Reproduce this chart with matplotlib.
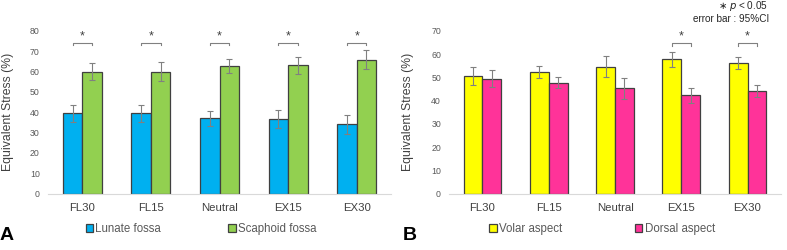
import numpy as np
import matplotlib.pyplot as plt

plt.rcParams['font.family'] = ['Liberation Sans', 'DejaVu Sans']

categories = ['FL30', 'FL15', 'Neutral', 'EX15', 'EX30']

# panel A
lunate = [39.4, 39.4, 37.0, 36.8, 34.0]
lunate_err = [4.3, 4.4, 3.6, 4.3, 4.6]
scaphoid = [60.0, 60.0, 62.7, 63.0, 65.8]
scaphoid_err = [4.2, 4.5, 3.5, 4.2, 4.6]
sig_a = [0, 1, 2, 3, 4]

# panel B
volar = [50.5, 52.1, 54.5, 57.7, 56.0]
volar_err = [3.9, 2.6, 4.5, 3.1, 2.6]
dorsal = [49.4, 47.7, 45.2, 42.2, 44.1]
dorsal_err = [3.7, 2.4, 4.5, 3.1, 2.6]
sig_b = [3, 4]

fig = plt.figure(figsize=(7.87, 2.5), dpi=100)
ax_a = fig.add_axes([48 / 787, 0.225, 343 / 787, 0.652])
ax_b = fig.add_axes([449.3 / 787, 0.225, 331.4 / 787, 0.652])

w = 0.285
x = np.arange(len(categories))


def draw(ax, v1, e1, v2, e2, c1, c2, l1, l2, ymax, sig, br_y):
    ax.bar(x - w / 2, v1, w, color=c1, edgecolor='#404040', linewidth=0.9, label=l1, zorder=2)
    ax.bar(x + w / 2, v2, w, color=c2, edgecolor='#404040', linewidth=0.9, label=l2, zorder=2)
    ax.errorbar(x - w / 2, v1, yerr=e1, fmt='none', ecolor='#808080', elinewidth=0.8,
                capsize=2, capthick=0.8, zorder=3)
    ax.errorbar(x + w / 2, v2, yerr=e2, fmt='none', ecolor='#808080', elinewidth=0.8,
                capsize=2, capthick=0.8, zorder=3)
    for i in sig:
        ax.plot([i - w / 2, i - w / 2, i + w / 2, i + w / 2],
                [br_y - 1.0, br_y, br_y, br_y - 1.0], color='#808080', lw=0.8)
        ax.text(i, br_y + 0.4, '*', ha='center', va='bottom', fontsize=9, color='#404040')
    ax.set_xlim(-0.5, len(categories) - 0.5)
    ax.set_ylim(0, ymax)
    ax.set_yticks(range(0, ymax + 1, 10))
    ax.set_xticks(x)
    ax.set_xticklabels(categories, fontsize=8.2, color='#404040')
    ax.tick_params(axis='y', length=0, labelsize=6.3, labelcolor='#595959', pad=6)
    ax.tick_params(axis='x', length=0, pad=7)
    for s in ['top', 'right', 'left']:
        ax.spines[s].set_visible(False)
    ax.spines['bottom'].set_color('#d9d9d9')
    ax.spines['bottom'].set_linewidth(0.8)
    ax.set_ylabel('Equivalent Stress (%)', fontsize=8.8, color='#404040', labelpad=4)


draw(ax_a, lunate, lunate_err, scaphoid, scaphoid_err, '#00b0f0', '#92d050',
     'Lunate fossa', 'Scaphoid fossa', 80, sig_a, 73.8)
draw(ax_b, volar, volar_err, dorsal, dorsal_err, '#ffff00', '#ff3399',
     'Volar aspect', 'Dorsal aspect', 70, sig_b, 64.6)

ax_a.yaxis.set_label_coords(-(48 - 14) / 343, 0.5)
ax_b.yaxis.set_label_coords(-(449.3 - 414) / 331.4, 0.5)

for ax, cx, cs in [(ax_a, 201 / 787, 5.8), (ax_b, 602 / 787, 6.3)]:
    leg = ax.legend(loc='center', bbox_to_anchor=(cx, 0.084), bbox_transform=fig.transFigure,
                    ncol=2, frameon=False, fontsize=8.3, handlelength=0.65, handleheight=0.65,
                    handletextpad=0.2, columnspacing=cs, borderpad=0)
    for t in leg.get_texts():
        t.set_color('#595959')

fig.text(0.0, 1 - 236 / 250, 'A', fontsize=14, fontweight='bold', ha='left', va='center')
fig.text(403 / 787, 1 - 236 / 250, 'B', fontsize=14, fontweight='bold', ha='left', va='center')

fig.text(768 / 787, 1 - 6 / 250, r'$\ast$ $p$ < 0.05', fontsize=7.2, ha='right', va='center',
         color='#262626')
fig.text(769 / 787, 1 - 18.5 / 250, 'error bar : 95%CI', fontsize=7.2, ha='right', va='center',
         color='#262626')

fig.savefig('out.png', dpi=100)
